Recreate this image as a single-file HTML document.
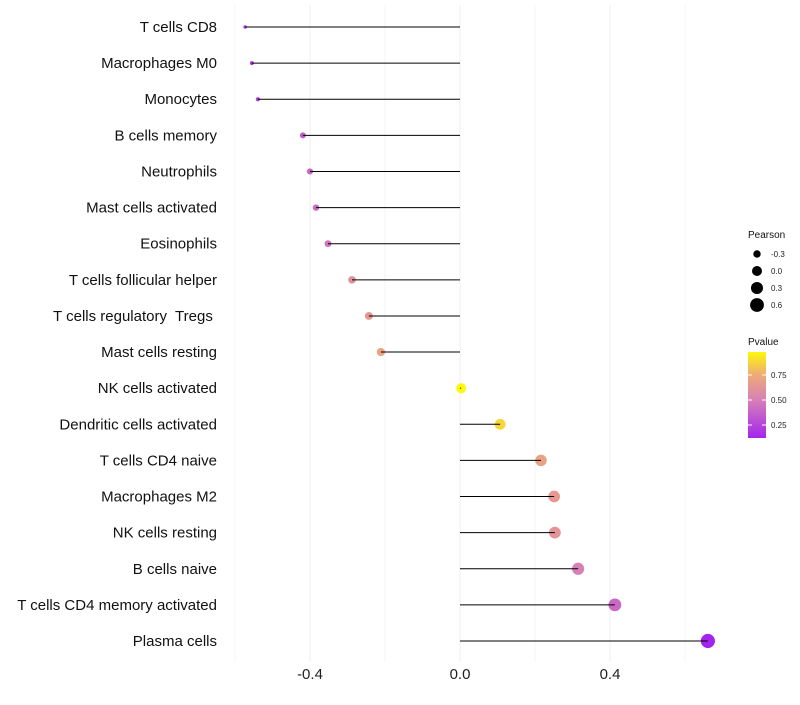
<!DOCTYPE html>
<html><head><meta charset="utf-8"><style>
body{margin:0;background:#fff;font-family:"Liberation Sans",sans-serif}
</style></head><body>
<svg id="chart" width="800" height="700" xmlns="http://www.w3.org/2000/svg">
<g id="grid"></g>
<g id="marks"></g>
<g id="ylabels"></g>
<g id="xlabels"></g>
<g id="legend"></g>
</svg>
<script>
const categories=["T cells CD8","Macrophages M0","Monocytes","B cells memory","Neutrophils","Mast cells activated","Eosinophils","T cells follicular helper","T cells regulatory  Tregs ","Mast cells resting","NK cells activated","Dendritic cells activated","T cells CD4 naive","Macrophages M2","NK cells resting","B cells naive","T cells CD4 memory activated","Plasma cells"];
const pearson=[-0.573,-0.555,-0.539,-0.419,-0.4,-0.384,-0.352,-0.288,-0.243,-0.211,0.003,0.107,0.216,0.251,0.253,0.315,0.413,0.661];
const pvalue=[0.2,0.2,0.22,0.35,0.4,0.42,0.45,0.6,0.65,0.72,0.98,0.88,0.7,0.65,0.62,0.5,0.4,0.12];
const xTicks=[-0.4,0.0,0.4];
const xTickLabels=["-0.4","0.0","0.4"];
const minorTicks=[-0.6,-0.2,0.2,0.6];
const sizeLegend=[-0.3,0.0,0.3,0.6];
const sizeLegendLabels=["-0.3","0.0","0.3","0.6"];
const colorTicks=[0.25,0.5,0.75];
const colorTickLabels=["0.25","0.50","0.75"];

const NS="http://www.w3.org/2000/svg";
const xs=v=>460+v*375;
const ys=i=>27+i*(614/17);
const rs=v=>Math.sqrt(Math.max(1,25+38*v));
const stops=[[0.1,[160,32,240]],[0.5,[215,128,183]],[0.75,[238,170,120]],[1.0,[255,255,0]]];
function col(p){
  for(let i=0;i<stops.length-1;i++){const a=stops[i],b=stops[i+1];
    if(p<=b[0]||i==stops.length-2){let t=Math.min(1,Math.max(0,(p-a[0])/(b[0]-a[0])));
      return "rgb("+a[1].map((c,k)=>Math.round(c+(b[1][k]-c)*t)).join(",")+")";}}
}
function mk(tag,at,parent){const e=document.createElementNS(NS,tag);for(const k in at)e.setAttribute(k,at[k]);parent.appendChild(e);return e;}
const grid=document.getElementById('grid'),marks=document.getElementById('marks'),yl=document.getElementById('ylabels'),xl=document.getElementById('xlabels'),lg=document.getElementById('legend');
minorTicks.forEach(v=>{const l=mk('line',{x1:xs(v),x2:xs(v),y1:5,y2:662,stroke:'#f5f5f5','stroke-width':1},grid);
});
xTicks.forEach((v,i)=>{const l=mk('line',{x1:xs(v),x2:xs(v),y1:5,y2:662,stroke:'#efefef','stroke-width':1},grid);

const t=mk('text',{x:xs(v),y:679,'text-anchor':'middle','font-size':15,fill:'#222'},xl);t.textContent=xTickLabels[i];
});
categories.forEach((c,i)=>{const y=ys(i),v=pearson[i];
const p=mk('circle',{cx:xs(v),cy:y,r:rs(v),fill:col(pvalue[i])},marks);

const s=mk('line',{x1:xs(0),x2:xs(v),y1:y,y2:y,stroke:'#000','stroke-width':1},marks);

const t=mk('text',{x:217,y:y+5,'text-anchor':'end','font-size':15,fill:'#111'},yl);t.textContent=c;t.setAttribute('xml:space','preserve');t.style.whiteSpace='pre';
});
let t=mk('text',{x:748,y:238,'font-size':10,fill:'#111'},lg);t.textContent='Pearson';

sizeLegend.forEach((v,i)=>{const y=254+i*17;
const c=mk('circle',{cx:757,cy:y,r:rs(v),fill:'#000'},lg);
const tt=mk('text',{x:771,y:y+3,'font-size':8,fill:'#222'},lg);tt.textContent=sizeLegendLabels[i];
});
t=mk('text',{x:748,y:345,'font-size':10,fill:'#111'},lg);t.textContent='Pvalue';

const defs=mk('defs',{},lg);const g=mk('linearGradient',{id:'pg',x1:0,y1:1,x2:0,y2:0},defs);
[0.12,0.3,0.5,0.65,0.75,0.9,0.98].forEach(p=>mk('stop',{offset:(p-0.12)/0.86,'stop-color':col(p)},g));
const bar=mk('rect',{x:748,y:352,width:18,height:86,fill:'url(#pg)'},lg);

colorTicks.forEach((v,i)=>{const y=352+(0.98-v)*100;
mk('line',{x1:748,x2:752,y1:y,y2:y,stroke:'#fff'},lg);mk('line',{x1:762,x2:766,y1:y,y2:y,stroke:'#fff'},lg);
const tt=mk('text',{x:771,y:y+3,'font-size':8,fill:'#222'},lg);tt.textContent=colorTickLabels[i];
});
</script>
</body></html>
